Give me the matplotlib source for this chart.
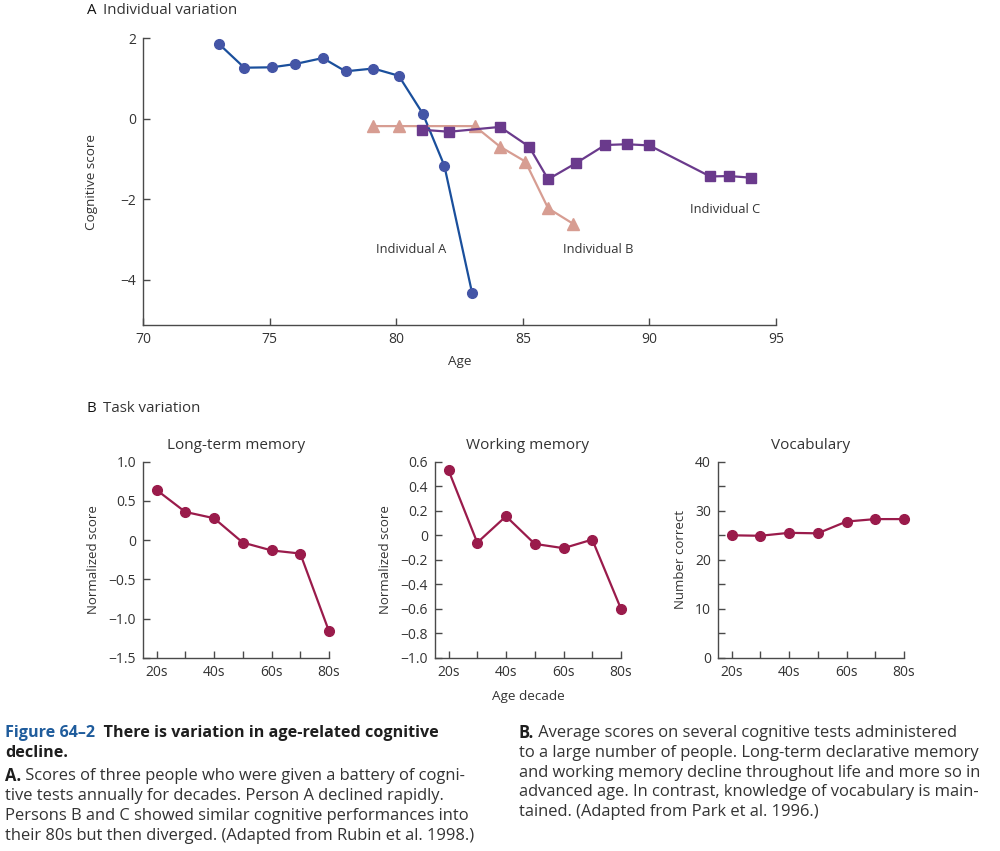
import numpy as np
import matplotlib.pyplot as plt

plt.rcParams['font.family'] = ['Open Sans', 'DejaVu Sans']

# panel A: individual variation
a_age = [73, 74, 75.1, 76, 77.1, 78, 79.1, 80.1, 81.05, 81.9, 83]
a_score = [1.86, 1.27, 1.28, 1.36, 1.51, 1.18, 1.25, 1.07, 0.13, -1.16, -4.33]
b_age = [79.1, 80.1, 83.1, 84.1, 85.1, 86.0, 87.0]
b_score = [-0.18, -0.18, -0.18, -0.69, -1.06, -2.22, -2.61]
c_age = [81.0, 82.1, 84.1, 85.25, 86.0, 87.1, 88.25, 89.1, 90.0, 92.4, 93.15, 94.0]
c_score = [-0.27, -0.32, -0.2, -0.69, -1.5, -1.1, -0.65, -0.63, -0.66, -1.43, -1.42, -1.46]

# panel B: task variation
decades = ['20s', '30s', '40s', '50s', '60s', '70s', '80s']
ltm = [0.64, 0.36, 0.28, -0.03, -0.13, -0.17, -1.16]
wm = [0.53, -0.06, 0.155, -0.07, -0.105, -0.035, -0.60]
vocab = [25.0, 24.9, 25.5, 25.4, 27.8, 28.3, 28.3]

txt = '#333333'
spine = '#4a4a4a'
maroon = '#9a1b4b'

def style(ax):
    for s in ['top', 'right']:
        ax.spines[s].set_visible(False)
    for s in ['left', 'bottom']:
        ax.spines[s].set_color(spine)
        ax.spines[s].set_linewidth(1.0)
    ax.tick_params(direction='in', length=5, width=1, color=spine,
                   labelcolor=txt, labelsize=10, pad=5)
    ax.tick_params(which='minor', direction='in', length=5, width=1, color=spine)

fig = plt.figure(figsize=(10, 8.51), dpi=100)

# ---- A ----
ax = fig.add_axes([0.143, 0.618, 0.633, 0.337])
ax.plot(a_age, a_score, color='#1a4f9c', lw=1.6, marker='o', ms=7,
        mfc='#4455a6', mec='#4455a6', clip_on=False)
ax.plot(b_age, b_score, color='#d79d92', lw=1.6, marker='^', ms=8,
        mfc='#d79d92', mec='#d79d92', clip_on=False)
ax.plot(c_age, c_score, color='#6a3a8c', lw=1.6, marker='s', ms=7.5,
        mfc='#6a3a8c', mec='#6a3a8c', clip_on=False)
ax.set_xlim(70, 95)
ax.set_ylim(-5.12, 2)
ax.set_xticks([70, 75, 80, 85, 90, 95])
ax.set_yticks([2, 0, -2, -4])
ax.set_yticklabels(['2', '0', '\u22122', '\u22124'])
style(ax)
ax.set_xlabel('Age', fontsize=9.7, color=txt, labelpad=6)
ax.set_ylabel('Cognitive score', fontsize=9.7, color=txt, labelpad=16)
ax.text(79.2, -3.25, 'Individual A', fontsize=9.3, color=txt, va='center')
ax.text(86.6, -3.25, 'Individual B', fontsize=9.3, color=txt, va='center')
ax.text(91.6, -2.25, 'Individual C', fontsize=9.3, color=txt, va='center')

fig.text(0.087, 1 - 10 / 851, 'A', fontsize=10.8, color='#111111', va='center')
fig.text(0.103, 1 - 10 / 851, 'Individual variation', fontsize=10.8, color=txt, va='center')
fig.text(0.087, 1 - 408 / 851, 'B', fontsize=10.8, color='#111111', va='center')
fig.text(0.103, 1 - 408 / 851, 'Task variation', fontsize=10.8, color=txt, va='center')

# ---- B ----
x = np.arange(len(decades))
panels = [
    (0.143, ltm, 'Long-term memory', 'Normalized score', (-1.5, 1.0),
     [1.0, 0.5, 0, -0.5, -1.0, -1.5], ['1.0', '0.5', '0', '\u22120.5', '\u22121.0', '\u22121.5'], None),
    (0.435, wm, 'Working memory', 'Normalized score', (-1.0, 0.6),
     [0.6, 0.4, 0.2, 0, -0.2, -0.4, -0.6, -0.8, -1.0],
     ['0.6', '0.4', '0.2', '0', '\u22120.2', '\u22120.4', '\u22120.6', '\u22120.8', '\u22121.0'], None),
    (0.718, vocab, 'Vocabulary', 'Number correct', (0, 40),
     [0, 10, 20, 30, 40], ['0', '10', '20', '30', '40'], [5, 15, 25, 35]),
]
for i, (left, vals, title, ylab, ylim, yt, ytl, minor) in enumerate(panels):
    bx = fig.add_axes([left, 0.2268, 0.186, 0.2307])
    bx.plot(x, vals, color=maroon, lw=1.6, marker='o', ms=7, mfc=maroon, mec=maroon,
            clip_on=False)
    bx.set_xlim(-0.47, 6)
    bx.set_ylim(*ylim)
    bx.set_xticks(x)
    bx.set_xticklabels([d if j % 2 == 0 else '' for j, d in enumerate(decades)])
    bx.set_yticks(yt)
    bx.set_yticklabels(ytl)
    if minor:
        bx.set_yticks(minor, minor=True)
    style(bx)
    bx.set_title(title, fontsize=11, color=txt, pad=9)
    bx.set_ylabel(ylab, fontsize=9.5, color=txt, labelpad=6)
    if i == 1:
        bx.set_xlabel('Age decade', fontsize=9.7, color=txt, labelpad=7)

# ---- caption ----
cb = 11.6
cs = 11.9
blue = '#1f5c9c'
dark = '#1e1e1e'
y0 = 1 - 733 / 851
t = fig.text(0.005, y0, 'Figure 64\u20132', fontsize=cb, color=blue, weight='bold', va='center')
fig.canvas.draw()
plt.annotate('  There is variation in age-related cognitive', xy=(1, 0.5), xycoords=t,
             fontsize=cb, color=dark, weight='bold', va='center')
fig.text(0.005, 1 - 753 / 851, 'decline.', fontsize=cb, color=dark, weight='bold', va='center')

ta = fig.text(0.005, 1 - 776 / 851, 'A.', fontsize=cs, color=dark, weight='bold', va='center')
plt.annotate(' Scores of three people who were given a battery of cogni-', xy=(1, 0.5),
             xycoords=ta, fontsize=cs, color=txt, va='center')
left_lines = ['tive tests annually for decades. Person A declined rapidly.',
              'Persons B and C showed similar cognitive performances into',
              'their 80s but then diverged. (Adapted from Rubin et al. 1998.)']
for k, line in enumerate(left_lines):
    fig.text(0.005, 1 - (796 + 20 * k) / 851, line, fontsize=cs, color=txt, va='center')

tb = fig.text(0.519, 1 - 733 / 851, 'B.', fontsize=cs, color=dark, weight='bold', va='center')
plt.annotate(' Average scores on several cognitive tests administered', xy=(1, 0.5),
             xycoords=tb, fontsize=cs, color=txt, va='center')
right_lines = ['to a large number of people. Long-term declarative memory',
               'and working memory decline throughout life and more so in',
               'advanced age. In contrast, knowledge of vocabulary is main-',
               'tained. (Adapted from Park et al. 1996.)']
for k, line in enumerate(right_lines):
    fig.text(0.519, 1 - (753 + 19.7 * k) / 851, line, fontsize=cs, color=txt, va='center')

fig.savefig('out.png', dpi=100)
